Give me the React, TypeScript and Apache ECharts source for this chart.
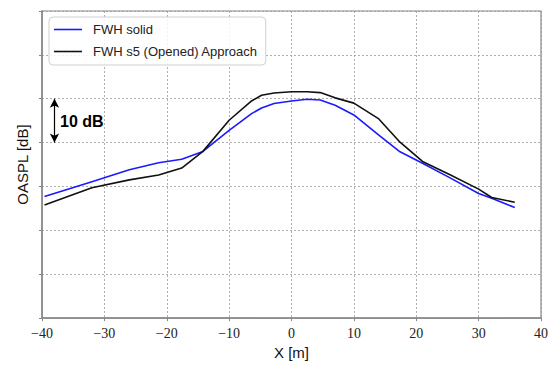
import React, { useEffect, useRef } from "react";
import * as echarts from "echarts";

const xPositions = [-39.6, -32, -26, -21.3, -17.6, -14.2, -10, -6.4, -4.8, -2.8, 0, 2.5, 4.6, 7, 10, 14, 17.4, 21, 25.5, 30, 32.1, 35.8];
const solidValues = [27.7, 31.1, 33.8, 35.4, 36.2, 38.0, 42.8, 46.6, 47.9, 48.9, 49.5, 49.9, 49.7, 48.5, 46.3, 41.7, 37.9, 35.3, 31.9, 28.4, 27.3, 25.2];
const openedValues = [25.8, 29.7, 31.5, 32.6, 34.2, 38.0, 45.1, 49.5, 50.8, 51.3, 51.6, 51.6, 51.4, 50.2, 49.0, 45.4, 40.1, 35.7, 32.6, 29.4, 27.5, 26.4];
const seriesNames = ["FWH solid", "FWH s5 (Opened) Approach"];
const xTicks = { min: -40, max: 40, interval: 10 };
const yTicks = { min: 0, max: 70, interval: 10 };
const scaleBar = { x: -38, from: 40, to: 50, label: "10 dB" };

export default function App() {
  const ref = useRef<HTMLDivElement>(null);
  useEffect(() => {
    if (!ref.current) return;
    const chart = echarts.init(ref.current, null, { renderer: "svg" });
    const toPairs = (vals: number[]) => xPositions.map((x, i) => [x, vals[i]]);
    chart.setOption({
      animation: false,
      backgroundColor: "#ffffff",
      grid: {
        left: 42,
        right: 18,
        top: 11,
        bottom: 44,
        show: true,
        borderColor: "#888888",
        borderWidth: 1.2,
      },
      legend: {
        orient: "vertical",
        left: 49,
        top: 17,
        padding: [5, 8, 6, 5],
        icon: "rect",
        itemWidth: 28,
        itemHeight: 1.6,
        itemGap: 7,
        backgroundColor: "rgba(255,255,255,0.85)",
        borderColor: "#d0d0d0",
        borderWidth: 1,
        borderRadius: 4,
        textStyle: {
          fontFamily: "Liberation Sans",
          fontSize: 13,
          lineHeight: 15,
          color: "#222",
          padding: [0, 0, 0, 6],
        },
        data: seriesNames,
      },
      xAxis: {
        type: "value",
        min: xTicks.min,
        max: xTicks.max,
        interval: xTicks.interval,
        name: "X [m]",
        nameLocation: "middle",
        nameGap: 26,
        nameTextStyle: { fontFamily: "Liberation Sans", fontSize: 15, color: "#111" },
        axisLine: { show: true, onZero: false, lineStyle: { color: "#888", width: 1.5 } },
        axisTick: { show: true, inside: false, length: 3, lineStyle: { color: "#888" } },
        axisLabel: {
          fontFamily: "Liberation Serif",
          fontSize: 14,
          color: "#222",
          margin: 8,
          formatter: (v: number) => String(v).replace("-", "\u2212"),
        },
        splitLine: { show: true, lineStyle: { color: "#999", type: [2, 2], width: 0.8 } },
      },
      yAxis: {
        type: "value",
        min: yTicks.min,
        max: yTicks.max,
        interval: yTicks.interval,
        name: "OASPL [dB]",
        nameLocation: "middle",
        nameGap: 12,
        nameTextStyle: { fontFamily: "Liberation Sans", fontSize: 15, color: "#111" },
        axisLine: { show: true, onZero: false, lineStyle: { color: "#888", width: 1.5 } },
        axisTick: { show: true, inside: false, length: 3, lineStyle: { color: "#888" } },
        axisLabel: { show: false },
        splitLine: { show: true, lineStyle: { color: "#999", type: [2, 2], width: 0.8 } },
      },
      graphic: [
        {
          type: "text",
          left: 60,
          top: 113,
          style: {
            text: scaleBar.label,
            font: "bold 16px 'Liberation Sans'",
            fill: "#000",
          },
        },
      ],
      series: [
        {
          name: seriesNames[0],
          type: "line",
          data: toPairs(solidValues),
          symbol: "none",
          lineStyle: { color: "#1a1aff", width: 1.6 },
          itemStyle: { color: "#1a1aff" },
        },
        {
          name: seriesNames[1],
          type: "line",
          data: toPairs(openedValues),
          symbol: "none",
          lineStyle: { color: "#111", width: 1.6 },
          itemStyle: { color: "#111" },
          markLine: {
            silent: true,
            symbol: ["arrow", "arrow"],
            symbolSize: [7, 9],
            label: { show: false },
            lineStyle: { color: "#000", type: "solid", width: 1.2 },
            data: [[{ coord: [scaleBar.x, scaleBar.to] }, { coord: [scaleBar.x, scaleBar.from] }]],
          },
        },
      ],
    });
    return () => chart.dispose();
  }, []);
  return <div ref={ref} style={{ position: "fixed", left: 0, top: 0, width: 559, height: 365 }} />;
}
